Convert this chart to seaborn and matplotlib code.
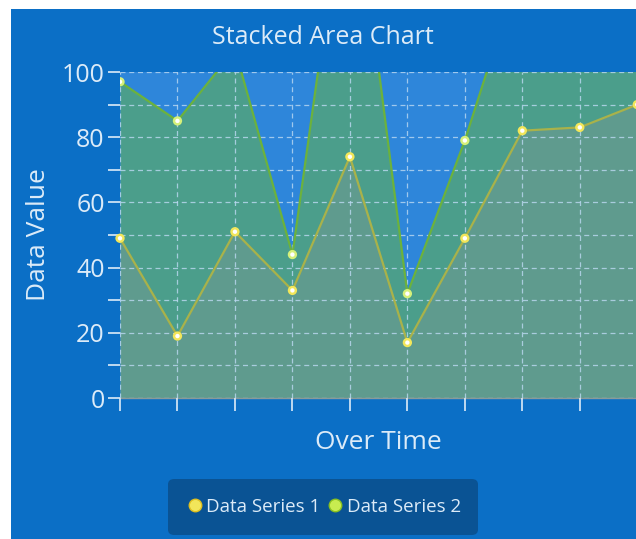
import numpy as np
import pandas as pd
import matplotlib
matplotlib.use("Agg")
import matplotlib.pyplot as plt
from matplotlib.patches import Rectangle, FancyBboxPatch
from matplotlib.lines import Line2D
import seaborn as sns

# data
time_steps = list(range(10))
series_1 = [49, 19, 51, 33, 74, 17, 49, 82, 83, 90]
series_2 = [48, 66, 56, 11, 96, 15, 30, 52, 45, 30]

df = pd.DataFrame({"t": time_steps, "s1": series_1, "s2": series_2})
df["top"] = df["s1"] + df["s2"]

outer_bg = "#0b6fc6"
plot_bg = "#2e86da"
fill_1 = "#5f9b8e"
fill_2 = "#4b9e8b"
line_1 = "#a9b24a"
line_2 = "#6cb23c"
txt = "#dcebf8"
grid_c = "#bcd9f2"

sns.set_style("white")
plt.rcParams["font.family"] = ["Open Sans", "DejaVu Sans"]

fig = plt.figure(figsize=(6.36, 5.39), dpi=100)
fig.patch.set_facecolor("white")
fig.patches.append(Rectangle((11 / 636, 0), 1, 1 - 9 / 539, transform=fig.transFigure,
                             facecolor=outer_bg, edgecolor="none", zorder=-10))

ax = fig.add_axes([120 / 636, 141 / 539, 1 - 120 / 636 + 0.002, 326 / 539])
ax.set_facecolor(plot_bg)

# areas
ax.fill_between(df["t"], 0, df["s1"], color=fill_1, zorder=1, linewidth=0)
ax.fill_between(df["t"], df["s1"], df["top"], color=fill_2, zorder=1, linewidth=0)

# grid
ax.set_ylim(0, 100)
ax.set_xlim(0, 9)
ax.set_yticks(range(0, 101, 20))
ax.set_yticks(range(10, 100, 20), minor=True)
ax.set_xticks(time_steps)
ax.grid(True, which="both", linestyle=(0, (4, 3)), color=grid_c, linewidth=0.9, alpha=0.8, zorder=2)
ax.set_axisbelow(False)

# lines + markers
sns.lineplot(data=df, x="t", y="top", ax=ax, color=line_2, linewidth=1.6, zorder=3)
sns.lineplot(data=df, x="t", y="s1", ax=ax, color=line_1, linewidth=1.6, zorder=3)
ax.scatter(df["t"], df["top"], s=45, color="#d6f07a", edgecolor="none", zorder=4, clip_on=True)
ax.scatter(df["t"], df["top"], s=10, color="white", edgecolor="none", zorder=5, clip_on=True)
ax.scatter(df["t"], df["s1"], s=45, color="#f2e65a", edgecolor="none", zorder=4, clip_on=False)
ax.scatter(df["t"], df["s1"], s=10, color="white", edgecolor="none", zorder=5, clip_on=False)

for s in ["top", "right", "left"]:
    ax.spines[s].set_visible(False)
ax.spines["bottom"].set_color("#8a9a9a")
ax.spines["bottom"].set_linewidth(1)

ax.tick_params(axis="y", which="both", direction="out", length=9, width=1.2,
               color=txt, labelcolor=txt, labelsize=18, pad=2, left=True)
ax.tick_params(axis="x", which="major", direction="out", length=9, width=1.2,
               color=txt, labelbottom=False, bottom=True)

ax.set_xlabel("Over Time", color=txt, fontsize=19, labelpad=14)
ax.set_ylabel("Data Value", color=txt, fontsize=19, labelpad=8)
fig.text(323 / 636, 1 - 37 / 539, "Stacked Area Chart", color=txt, fontsize=18,
         ha="center", va="center")

# legend box
fig.patches.append(FancyBboxPatch((168 / 636, 4 / 539), 310 / 636, 56 / 539,
                                  boxstyle="round,pad=0,rounding_size=0.01",
                                  transform=fig.transFigure, facecolor="#0a5394",
                                  edgecolor="none", zorder=-5))
handles = [
    Line2D([], [], marker="o", linestyle="none", markersize=9, markerfacecolor="#f2e65a",
           markeredgecolor="#e0c020", label="Data Series 1"),
    Line2D([], [], marker="o", linestyle="none", markersize=9, markerfacecolor="#c8ec50",
           markeredgecolor="#8ac020", label="Data Series 2"),
]
leg = fig.legend(handles=handles, loc="center", bbox_to_anchor=(323 / 636, 1 - 507 / 539),
                 ncol=2, frameon=False, fontsize=13.5, handletextpad=0.1, columnspacing=0.3,
                 handlelength=1.0, labelcolor=txt)

fig.savefig("out.png", dpi=100, facecolor=fig.get_facecolor())
